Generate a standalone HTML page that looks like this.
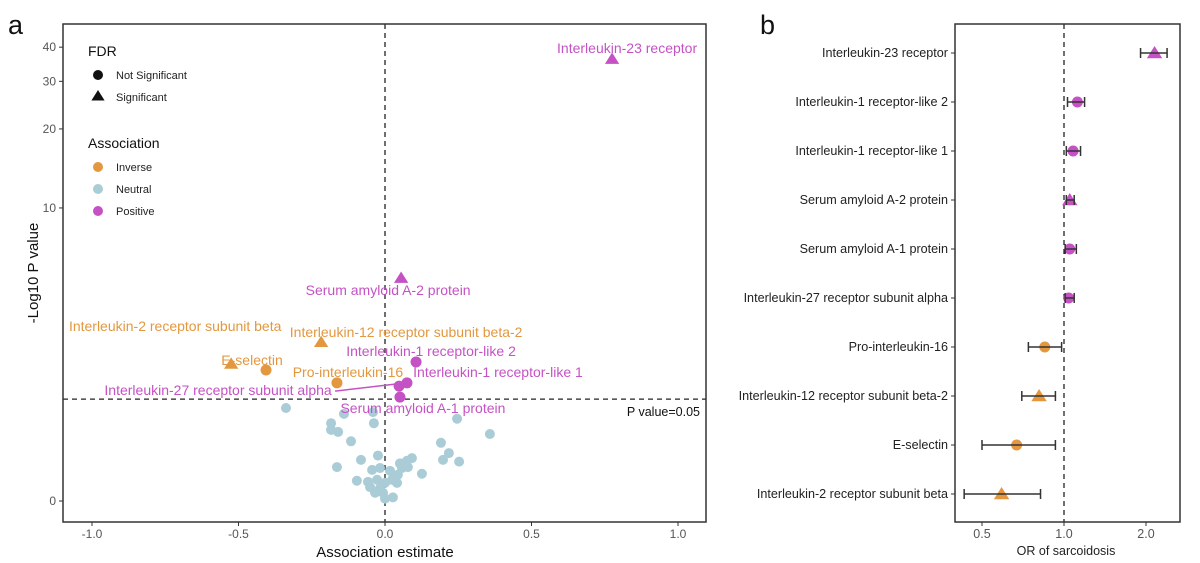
<!DOCTYPE html>
<html><head><meta charset="utf-8"><style>
html,body{margin:0;padding:0;background:#fff;}
svg{display:block;font-family:"Liberation Sans",Arial,sans-serif;}
</style></head><body>
<svg id="fig" width="1200" height="563" viewBox="0 0 1200 563">
<text x="8" y="34" font-size="27" fill="#111">a</text>
<text x="760" y="34" font-size="27" fill="#111">b</text>
<g id="pa"></g>
<g id="pb"></g>
</svg>
<script>
// ---- Panel a data ----
const sigNames = ["Interleukin-23 receptor","Serum amyloid A-2 protein","Interleukin-2 receptor subunit beta","Interleukin-12 receptor subunit beta-2","E-selectin","Pro-interleukin-16","Interleukin-1 receptor-like 2","Interleukin-1 receptor-like 1","Interleukin-27 receptor subunit alpha","Serum amyloid A-1 protein"];
const sigEst = [0.775,0.055,-0.525,-0.218,-0.406,-0.164,0.106,0.075,0.048,0.051];
const sigLogP = [36.2,5.2,2.07,2.67,1.92,1.63,2.12,1.63,1.56,1.34];
const sigAssoc = ["Positive","Positive","Inverse","Inverse","Inverse","Inverse","Positive","Positive","Positive","Positive"];
const sigFdr = [true,true,true,true,false,false,false,false,false,false];
const neutralEst = [-0.338,-0.140,-0.041,-0.184,-0.184,-0.160,-0.038,-0.116,0.246,0.358,0.191,0.218,0.198,0.253,-0.082,-0.024,-0.164,0.092,0.075,0.051,0.078,0.058,0.126,-0.044,-0.017,0.017,0.044,-0.096,-0.058,-0.027,0.0,0.024,0.041,-0.051,-0.034,-0.007,0.027,0.0,-0.017];
const neutralLogP = [1.14,1.04,1.07,0.89,0.79,0.76,0.89,0.63,0.96,0.73,0.61,0.48,0.40,0.38,0.40,0.45,0.32,0.42,0.39,0.36,0.32,0.31,0.25,0.29,0.31,0.28,0.24,0.18,0.17,0.19,0.16,0.19,0.16,0.12,0.07,0.07,0.03,0.02,0.11];
const xTicksA = [-1.0,-0.5,0.0,0.5,1.0];
const xTickLabelsA = ["-1.0","-0.5","0.0","0.5","1.0"];
const yTicksA = [0,10,20,30,40];
const pThreshold = 1.301;
// label offsets relative to point
const labelDx = [15,-13,-56,85,-14,11,15,91,-181,23];
const labelDy = [-6,17,-33,-5,-5,-6,-6,-6,9,16];

// ---- Panel b data ----
const orNames = ["Interleukin-23 receptor","Interleukin-1 receptor-like 2","Interleukin-1 receptor-like 1","Serum amyloid A-2 protein","Serum amyloid A-1 protein","Interleukin-27 receptor subunit alpha","Pro-interleukin-16","Interleukin-12 receptor subunit beta-2","E-selectin","Interleukin-2 receptor subunit beta"];
const orVal = [2.15,1.12,1.08,1.05,1.05,1.04,0.85,0.81,0.67,0.59];
const orLo = [1.91,1.03,1.02,1.02,1.01,1.01,0.74,0.70,0.50,0.43];
const orHi = [2.39,1.19,1.15,1.09,1.11,1.09,0.98,0.93,0.93,0.82];
const orAssoc = ["Positive","Positive","Positive","Positive","Positive","Positive","Inverse","Inverse","Inverse","Inverse"];
const orFdr = [true,false,false,true,false,false,false,true,false,true];
const xTicksB = [0.5,1.0,2.0];
const xTickLabelsB = ["0.5","1.0","2.0"];

const COL = {Inverse:"#E3983F",Neutral:"#A9CCD7",Positive:"#C552C4"};
const NS = "http://www.w3.org/2000/svg";
function mk(parent, tag, attrs, text){const e=document.createElementNS(NS,tag);for(const k in attrs)e.setAttribute(k,attrs[k]);if(text!==undefined)e.textContent=text;parent.appendChild(e);return e;}

// ---- Panel a ----
const pa = document.getElementById('pa');
const A = {l:63,t:24,r:706,b:522};
const xA = v => 385 + 293*v;
const yA = p => 501 - 281.4*Math.log10(p+1);
function tri(g,cx,cy,s,fill){return mk(g,'polygon',{points:`${cx},${cy-s} ${cx-s*1.1},${cy+s*0.75} ${cx+s*1.1},${cy+s*0.75}`,fill:fill});}

let e;
e = mk(pa,'line',{x1:xA(0),x2:xA(0),y1:A.t,y2:A.b,stroke:'#222','stroke-width':1.3,'stroke-dasharray':'5,4'});
 
e = mk(pa,'line',{x1:A.l,x2:A.r,y1:yA(pThreshold),y2:yA(pThreshold),stroke:'#222','stroke-width':1.3,'stroke-dasharray':'5,4'});
 
e = mk(pa,'text',{x:700,y:yA(pThreshold)+17,'font-size':12.5,'text-anchor':'end',fill:'#111'},'P value=0.05');
 

neutralEst.forEach((v,i)=>{
  const c = mk(pa,'circle',{cx:xA(v),cy:yA(neutralLogP[i]),r:5,fill:COL.Neutral});
   
});
sigEst.forEach((v,i)=>{
  const cx=xA(v), cy=yA(sigLogP[i]), col=COL[sigAssoc[i]];
  let m;
  if(sigFdr[i]) m = tri(pa,cx,cy,6.5,col); else m = mk(pa,'circle',{cx:cx,cy:cy,r:5.5,fill:col});
   
  const lx=cx+labelDx[i], ly=cy+labelDy[i];
  if(i===8){
    const ln = mk(pa,'line',{x1:lx+117,y1:ly-4,x2:cx-4,y2:cy-2,stroke:col,'stroke-width':1.5});
     
  }
  const t = mk(pa,'text',{x:lx,y:ly,'font-size':14,'text-anchor':'middle',fill:col},sigNames[i]);
   
});

e = mk(pa,'rect',{x:A.l,y:A.t,width:A.r-A.l,height:A.b-A.t,fill:'none',stroke:'#333','stroke-width':1.5});
 
xTicksA.forEach((v,i)=>{
  mk(pa,'line',{x1:xA(v),x2:xA(v),y1:A.b,y2:A.b+4,stroke:'#333'});
  const t = mk(pa,'text',{x:xA(v),y:A.b+16,'font-size':12,'text-anchor':'middle',fill:'#555'},xTickLabelsA[i]);
   
});
yTicksA.forEach(v=>{
  mk(pa,'line',{x1:A.l-4,x2:A.l,y1:yA(v),y2:yA(v),stroke:'#333'});
  const t = mk(pa,'text',{x:A.l-7,y:yA(v)+4,'font-size':12,'text-anchor':'end',fill:'#555'},String(v));
   
});
e = mk(pa,'text',{x:385,y:557,'font-size':15,'text-anchor':'middle',fill:'#111'},'Association estimate');
 
e = mk(pa,'text',{x:0,y:0,'font-size':15,'text-anchor':'middle',fill:'#111',transform:'translate(38,273) rotate(-90)'},'-Log10 P value');
 

// legend
const lg = mk(pa,'g',{});
 
e = mk(lg,'text',{x:88,y:56,'font-size':14,fill:'#111'},'FDR');  
mk(lg,'circle',{cx:98,cy:75,r:5,fill:'#111'});
e = mk(lg,'text',{x:116,y:79,'font-size':11,fill:'#222'},'Not Significant');  
tri(lg,98,96,6,'#111');
e = mk(lg,'text',{x:116,y:101,'font-size':11,fill:'#222'},'Significant');  
e = mk(lg,'text',{x:88,y:148,'font-size':14,fill:'#111'},'Association');  
[["Inverse",167],["Neutral",189],["Positive",211]].forEach(([k,y])=>{
  mk(lg,'circle',{cx:98,cy:y,r:5,fill:COL[k]});
  const t=mk(lg,'text',{x:116,y:y+4,'font-size':11,fill:'#222'},k);
   
});

// ---- Panel b ----
const pb = document.getElementById('pb');
const B = {l:955,t:24,r:1180,b:522};
const xB = v => 1064 + 82*Math.log2(v);
const yB = i => 53 + i*49;
e = mk(pb,'line',{x1:xB(1),x2:xB(1),y1:B.t,y2:B.b,stroke:'#222','stroke-width':1.3,'stroke-dasharray':'5,4'});
 
orVal.forEach((v,i)=>{
  const y=yB(i), col=COL[orAssoc[i]];
  const g = mk(pb,'g',{});
   
  let m;
  if(orFdr[i]) m=tri(g,xB(v),y,7,col); else m=mk(g,'circle',{cx:xB(v),cy:y,r:5.5,fill:col});
   
  const eb = mk(g,'path',{d:`M${xB(orLo[i])},${y}H${xB(orHi[i])}M${xB(orLo[i])},${y-5}V${y+5}M${xB(orHi[i])},${y-5}V${y+5}`,stroke:'#333','stroke-width':1.5,fill:'none'});
   
  mk(pb,'line',{x1:B.l-4,x2:B.l,y1:y,y2:y,stroke:'#333'});
  const t = mk(pb,'text',{x:B.l-7,y:y+4,'font-size':12.6,'text-anchor':'end',fill:'#222'},orNames[i]);
   
});
e = mk(pb,'rect',{x:B.l,y:B.t,width:B.r-B.l,height:B.b-B.t,fill:'none',stroke:'#333','stroke-width':1.5});
 
xTicksB.forEach((v,i)=>{
  mk(pb,'line',{x1:xB(v),x2:xB(v),y1:B.b,y2:B.b+4,stroke:'#333'});
  const t = mk(pb,'text',{x:xB(v),y:B.b+16,'font-size':12.5,'text-anchor':'middle',fill:'#555'},xTickLabelsB[i]);
   
});
e = mk(pb,'text',{x:1066,y:555,'font-size':12.5,'text-anchor':'middle',fill:'#222'},'OR of sarcoidosis');
 
</script>
</body></html>
